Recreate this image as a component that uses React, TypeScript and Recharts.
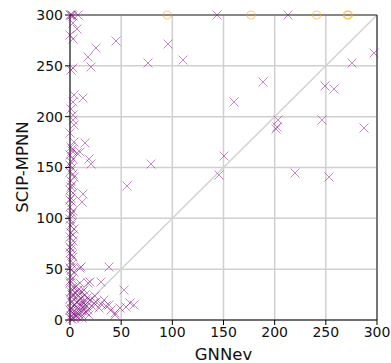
import {
  ScatterChart,
  Scatter,
  XAxis,
  YAxis,
  CartesianGrid,
  ReferenceLine,
} from "recharts";

// [GNNev, SCIP-MPNN] pairs
const solvedPairs: [number, number][] = [
  // top row and upper left
  [0, 300], [1, 300], [2, 300], [3, 299], [8, 300], [3, 292], [7, 286], [3, 276],
  [0, 280], [25, 268], [45, 274], [18, 259], [21, 249], [3, 248], [1, 246],
  [4, 221], [13, 218], [3, 214], [3, 202], [3, 197], [4, 192], [4, 175], [15, 174],
  [10, 165], [7, 164], [19, 158], [21, 153], [13, 124], [12, 116],
  // strip along x = 0
  [1, 170], [2, 166], [0, 162], [3, 158], [1, 155], [2, 150], [0, 146], [4, 141],
  [1, 137], [2, 133], [0, 128], [3, 125], [1, 120], [2, 116], [0, 111], [3, 107],
  [1, 103], [0, 99], [2, 95], [4, 90], [1, 86], [0, 82], [3, 78], [2, 74], [1, 70],
  [0, 66], [3, 62], [1, 58], [2, 55], [0, 51], [4, 47], [1, 43], [2, 40], [0, 36],
  [3, 32], [1, 28], [2, 25], [0, 21], [1, 18], [3, 14], [0, 10], [2, 7], [1, 4], [0, 2],
  [2, 168], [0, 152], [3, 144], [1, 131], [0, 118], [2, 105], [1, 92], [3, 84],
  [0, 72], [2, 64], [1, 49], [0, 38], [2, 30], [1, 12], [2, 1], [0, 184], [1, 208],
  // bottom left cluster
  [10, 51], [11, 52], [38, 52], [10, 36], [20, 37], [30, 37], [18, 36], [53, 30],
  [59, 17], [63, 15], [55, 13], [49, 12], [44, 5], [44, 7], [23, 17], [15, 25],
  [12, 28], [8, 30], [17, 22], [20, 20], [25, 18], [30, 16], [35, 14], [14, 12],
  [10, 10], [6, 8], [12, 5], [8, 3], [4, 2], [15, 15], [18, 10], [22, 13], [5, 15],
  [9, 20], [13, 18], [3, 25], [7, 12], [11, 22], [16, 8], [19, 5], [6, 4], [2, 10],
  [28, 12], [33, 20], [38, 15], [40, 10], [9, 27], [14, 30], [6, 33], [24, 24],
  [5, 5], [7, 18], [11, 14], [13, 9], [4, 20], [9, 6], [16, 19], [8, 24], [12, 2],
  [17, 14], [6, 27], [10, 17],
  // the rest of the plot
  [79, 153], [56, 132], [146, 143], [150, 161], [160, 214], [76, 253], [96, 271],
  [110, 256], [144, 300], [213, 300], [189, 234], [203, 197], [202, 190], [201, 188],
  [246, 197], [249, 230], [258, 227], [276, 253], [297, 263], [287, 189], [220, 145],
  [253, 141],
];

// instances that timed out for SCIP-MPNN (capped at 300)
const timeoutPairs: [number, number][] = [
  [95, 300], [177, 300], [241, 300], [271, 300], [272, 300],
];

const axisTicks = [0, 50, 100, 150, 200, 250, 300];

const solved = solvedPairs.map(([x, y]) => ({ x, y }));
const timeouts = timeoutPairs.map(([x, y]) => ({ x, y }));

const FONT = "'DejaVu Sans', sans-serif";

const renderCross = (props: any) => {
  const cx = Math.round(props.cx);
  const cy = Math.round(props.cy);
  const s = 4.5;
  return (
    <g stroke="#800080" strokeOpacity={0.45} strokeWidth={1}>
      <line x1={cx - s} y1={cy - s} x2={cx + s} y2={cy + s} />
      <line x1={cx - s} y1={cy + s} x2={cx + s} y2={cy - s} />
    </g>
  );
};

const renderRing = (props: any) => {
  const { cx, cy } = props;
  return (
    <circle cx={cx} cy={cy} r={4} stroke="#ffa500" strokeOpacity={0.55} strokeWidth={1.2} fill="none" />
  );
};

const renderYLabel = () => (
  <text
    x={22}
    y={167}
    transform="rotate(-90 22 167)"
    textAnchor="middle"
    dominantBaseline="central"
    fill="#111"
    fontSize={16.5}
    fontFamily={FONT}
  >
    SCIP-MPNN
  </text>
);

export default function App() {
  return (
    <div style={{ position: "absolute", left: 0, top: 0, background: "#fff" }}>
      <ScatterChart width={391} height={363} margin={{ top: 15, right: 14, left: 0, bottom: 0 }}>
        <CartesianGrid stroke="#d0d0d0" strokeWidth={1.5} />
        <ReferenceLine
          segment={[{ x: 0, y: 0 }, { x: 300, y: 300 }]}
          stroke="#d3d3d3"
          strokeWidth={1.5}
        />
        <XAxis
          type="number"
          dataKey="x"
          domain={[0, 300]}
          ticks={axisTicks}
          height={43}
          tickSize={5}
          stroke="#000"
          tick={{ fill: "#111", fontSize: 14, fontFamily: FONT }}
          label={{
            value: "GNNev",
            position: "insideBottom",
            offset: 3,
            style: { fill: "#111", fontSize: 16.5, fontFamily: FONT },
          }}
        />
        <YAxis
          type="number"
          dataKey="y"
          domain={[0, 300]}
          ticks={axisTicks}
          width={70}
          tickSize={5}
          stroke="#000"
          tick={{ fill: "#111", fontSize: 14, fontFamily: FONT }}
          label={{ content: renderYLabel }}
        />
        <ReferenceLine y={300} stroke="#333" strokeWidth={1.2} />
        <ReferenceLine x={300} stroke="#333" strokeWidth={1.2} />
        <Scatter data={solved} shape={renderCross} isAnimationActive={false} />
        <Scatter data={timeouts} shape={renderRing} isAnimationActive={false} />
      </ScatterChart>
    </div>
  );
}
